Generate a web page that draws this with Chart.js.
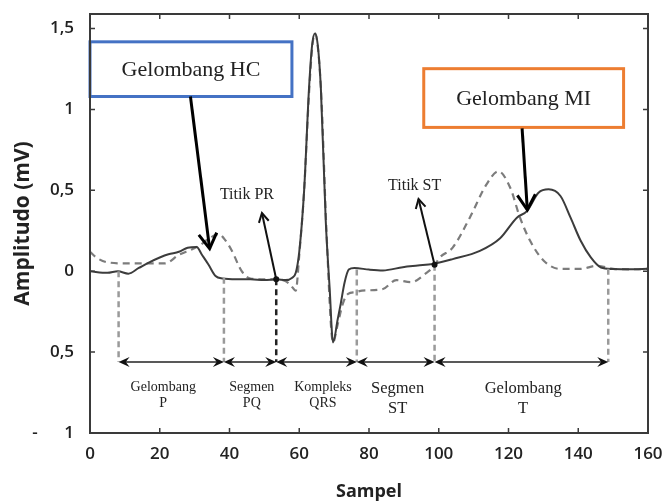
<!DOCTYPE html>
<html>
<head>
<meta charset="utf-8">
<script src="https://cdn.jsdelivr.net/npm/chart.js@4.4.1/dist/chart.umd.min.js"></script>
<style>
  body { margin: 0; background: #fff; }
  canvas { display: block; }
</style>
</head>
<body>
<canvas id="ecg" width="665" height="504"></canvas>
<script>
// ECG waveform, solid trace
const solidX = [0, 5, 8, 11, 14, 17, 20, 22.5, 25.5, 28, 30.6, 32, 34, 36, 38, 42, 46, 50, 53.5, 56, 58, 59, 60,
    61.4, 62.8, 63.7, 64.5, 65.3, 66.2, 67.6, 68.7, 69.7, 71, 71.9, 73, 74.2, 75.8, 80, 84, 89.7, 94, 98.3,
    104, 111.8, 117.6, 122.4, 125.3, 128.6, 131.5, 134.9, 137.8, 140.7, 143.6, 146.5, 150, 155, 160];
const solidY = [0, -0.01, 0, -0.015, 0.02, 0.055, 0.085, 0.105, 0.12, 0.145, 0.15, 0.105, 0.04, -0.03, -0.045, -0.05, -0.05, -0.055, -0.05, -0.055, -0.04, -0.01, 0.12,
    0.5, 1.13, 1.4, 1.47, 1.4, 1.13, 0.31, -0.1, -0.44, -0.3, -0.2, -0.07, 0.01, 0.02, 0.01, 0.005, 0.025, 0.035, 0.045,
    0.075, 0.126, 0.204, 0.331, 0.372, 0.485, 0.506, 0.465, 0.331, 0.188, 0.085, 0.023, 0.014, 0.012, 0.015];

// ECG waveform, dashed trace
const dashX = [0, 1.8, 5, 11, 16, 21.5, 25.4, 29.2, 31.5, 34, 37, 38.5, 40.6, 43.5, 46, 50, 53.5, 56, 57.5, 59, 60,
    61.4, 62.8, 63.8, 64.5, 65.5, 66.4, 67.8, 69.7, 71, 72.5, 74, 76, 78, 84, 87.8, 92, 96.5, 98.4,
    100.3, 104, 108.9, 113.7, 117.1, 120.5, 123.3, 126.2, 130.1, 134.9, 140.6, 145.4, 150, 155, 160];
const dashY = [0.12, 0.085, 0.055, 0.048, 0.048, 0.048, 0.1, 0.135, 0.16, 0.2, 0.23, 0.2, 0.13, 0.0, -0.045, -0.05, -0.05, -0.06, -0.085, -0.12, 0.1,
    0.5, 1.1, 1.4, 1.47, 1.35, 1.05, 0.25, -0.44, -0.33, -0.2, -0.14, -0.13, -0.12, -0.11, -0.055, -0.068, -0.01, 0.025,
    0.085, 0.146, 0.331, 0.537, 0.618, 0.516, 0.331, 0.188, 0.065, 0.014, 0.014, 0.034, 0.015, 0.012, 0.015];

const xTicks = [0, 20, 40, 60, 80, 100, 120, 140, 160];
const yTicks = [-1, -0.5, 0, 0.5, 1, 1.5];
const yTickLabels = ["-      1", "0,5", "0", "0,5", "1", "1,5"];

// segment boundaries and names
const segEdges = [8.2, 38.4, 53.4, 76.5, 98.8, 148.6];
const segEdgeTop = [0, -0.04, -0.05, 0.01, 0.04, 0.015];
const segNames = [["Gelombang", "P"], ["Segmen", "PQ"], ["Kompleks", "QRS"], ["Segmen", "ST"], ["Gelombang", "T"]];
const segNameX = [21, 46.4, 66.8, 88.2, 124.2];

const arrowLevel = -0.561;
const serif = "'Liberation Serif', 'Times New Roman', serif";

function head(ctx, tx, ty, ang, len, w, filled) {
    ctx.save();
    ctx.translate(tx, ty);
    ctx.rotate(ang);
    ctx.beginPath();
    if (filled) {
        ctx.moveTo(0, 0);
        ctx.lineTo(-len, -w);
        ctx.lineTo(-len * 0.65, 0);
        ctx.lineTo(-len, w);
        ctx.closePath();
        ctx.fill();
    } else {
        ctx.moveTo(-len, -w);
        ctx.lineTo(0, 0);
        ctx.lineTo(-len, w);
        ctx.stroke();
    }
    ctx.restore();
}

function arrow(ctx, x1, y1, x2, y2, width, len, w) {
    ctx.lineWidth = width;
    ctx.beginPath();
    ctx.moveTo(x1, y1);
    ctx.lineTo(x2, y2);
    ctx.stroke();
    head(ctx, x2, y2, Math.atan2(y2 - y1, x2 - x1), len, w, false);
}

const frame = {
    id: "frame",
    afterDraw(chart) {
        const { ctx, chartArea: a, scales: { x, y } } = chart;
        ctx.save();
        ctx.strokeStyle = "#3a3a3a";
        ctx.lineWidth = 2;
        ctx.strokeRect(a.left, a.top, a.right - a.left, a.bottom - a.top);
        ctx.lineWidth = 1.5;
        ctx.beginPath();
        xTicks.slice(1, -1).forEach(v => {
            const p = x.getPixelForValue(v);
            ctx.moveTo(p, a.bottom); ctx.lineTo(p, a.bottom - 5);
            ctx.moveTo(p, a.top); ctx.lineTo(p, a.top + 5);
        });
        yTicks.slice(1).forEach(v => {
            const p = y.getPixelForValue(v);
            ctx.moveTo(a.left, p); ctx.lineTo(a.left + 5, p);
            ctx.moveTo(a.right, p); ctx.lineTo(a.right - 5, p);
        });
        ctx.stroke();
        ctx.restore();
    }
};

const notes = {
    id: "notes",
    afterDatasetsDraw(chart) {
        const { ctx, scales: { x, y } } = chart;
        const X = v => x.getPixelForValue(v);
        const Y = v => y.getPixelForValue(v);
        ctx.save();

        // dashed boundary lines
        ctx.setLineDash([6, 4]);
        ctx.lineWidth = 2.5;
        segEdges.forEach((e, i) => {
            ctx.strokeStyle = i === 2 ? "#222" : "#9a9a9a";
            ctx.beginPath();
            ctx.moveTo(X(e), Y(segEdgeTop[i]));
            ctx.lineTo(X(e), Y(arrowLevel));
            ctx.stroke();
        });
        ctx.setLineDash([]);

        // double arrows
        ctx.strokeStyle = "#222";
        ctx.fillStyle = "#111";
        ctx.lineWidth = 1.5;
        const ay = Y(arrowLevel);
        for (let i = 0; i < segEdges.length - 1; i++) {
            const a = X(segEdges[i]), b = X(segEdges[i + 1]);
            ctx.beginPath();
            ctx.moveTo(a + 4, ay);
            ctx.lineTo(b - 4, ay);
            ctx.stroke();
            head(ctx, a, ay, Math.PI, 11, 5, true);
            head(ctx, b, ay, 0, 11, 5, true);
        }

        // segment names
        ctx.fillStyle = "#222";
        ctx.textAlign = "center";
        ctx.textBaseline = "middle";
        segNames.forEach((n, i) => {
            const big = i >= 3;
            ctx.font = (big ? "16.5px " : "14px ") + serif;
            const y1 = big ? -0.729 : -0.717;
            const y2 = big ? -0.852 : -0.815;
            ctx.fillText(n[0], X(segNameX[i]), Y(y1));
            ctx.fillText(n[1], X(segNameX[i]), Y(y2));
        });

        // Titik PR / Titik ST
        ctx.font = "16px " + serif;
        ctx.fillText("Titik PR", X(45), Y(0.47));
        ctx.fillText("Titik ST", X(93.1), Y(0.526));
        ctx.strokeStyle = "#111";
        arrow(ctx, X(53.4), Y(-0.05), X(49.3), Y(0.36), 2, 9, 5);
        arrow(ctx, X(98.8), Y(0.04), X(94.2), Y(0.446), 2, 9, 5);
        ctx.fillStyle = "#111";
        [[53.4, -0.05], [98.8, 0.04]].forEach(p => {
            ctx.beginPath();
            ctx.arc(X(p[0]), Y(p[1]), 3, 0, Math.PI * 2);
            ctx.fill();
        });

        // HC / MI boxes
        const boxes = [
            { x0: 0, x1: 57.9, y0: 1.418, y1: 1.08, color: "#4472c4", text: "Gelombang HC", from: [28.8, 1.08], to: [34.3, 0.14] },
            { x0: 95.7, x1: 153, y0: 1.252, y1: 0.889, color: "#ed7d31", text: "Gelombang MI", from: [123.9, 0.883], to: [125.4, 0.38] }
        ];
        boxes.forEach(bx => {
            const l = X(bx.x0), r = X(bx.x1), t = Y(bx.y0), bt = Y(bx.y1);
            ctx.fillStyle = "#fff";
            ctx.fillRect(l, t, r - l, bt - t);
            ctx.strokeStyle = bx.color;
            ctx.lineWidth = 3;
            ctx.strokeRect(l, t, r - l, bt - t);
            ctx.fillStyle = "#222";
            ctx.font = "22px " + serif;
            ctx.fillText(bx.text, (l + r) / 2, (t + bt) / 2 + 1);
            ctx.strokeStyle = "#000";
            arrow(ctx, X(bx.from[0]), Y(bx.from[1]), X(bx.to[0]), Y(bx.to[1]), 3, 15, 9);
        });

        ctx.restore();
    }
};

const ctx = document.getElementById("ecg").getContext("2d");

new Chart(ctx, {
    type: "line",
    data: {
        datasets: [{
            data: solidX.map((v, i) => ({ x: v, y: solidY[i] })),
            borderColor: "#3c3c3c",
            borderWidth: 2,
            pointRadius: 0,
            cubicInterpolationMode: "monotone",
            order: 0
        }, {
            data: dashX.map((v, i) => ({ x: v, y: dashY[i] })),
            borderColor: "#7c7c7c",
            borderWidth: 2.2,
            borderDash: [7, 5],
            pointRadius: 0,
            cubicInterpolationMode: "monotone",
            order: 1
        }]
    },
    options: {
        responsive: false,
        animation: false,
        layout: { padding: { top: 14, right: 17, left: 0, bottom: 0 } },
        plugins: {
            legend: { display: false },
            tooltip: { enabled: false }
        },
        scales: {
            x: {
                type: "linear",
                min: 0,
                max: 160,
                afterFit: s => { s.height = 71; s.paddingLeft = 0; s.paddingRight = 0; },
                afterBuildTicks: s => { s.ticks = xTicks.map(v => ({ value: v })); },
                grid: { display: false, drawTicks: false },
                border: { display: false },
                ticks: {
                    padding: 11,
                    maxRotation: 0,
                    autoSkip: false,
                    color: "#222",
                    font: { family: "'Open Sans'", size: 17, weight: "600" }
                },
                title: {
                    display: true,
                    text: "Sampel",
                    color: "#222",
                    font: { family: "'Open Sans'", size: 18, weight: "bold" },
                    padding: { top: 0, bottom: 1 }
                }
            },
            y: {
                min: -1,
                max: 1.59,
                afterFit: s => { s.width = 90; s.paddingTop = 0; s.paddingBottom = 0; },
                afterBuildTicks: s => { s.ticks = yTicks.map(v => ({ value: v })); },
                grid: { display: false, drawTicks: false },
                border: { display: false },
                ticks: {
                    padding: 16,
                    color: "#222",
                    font: { family: "'Open Sans'", size: 17, weight: "600" },
                    callback: v => yTickLabels[yTicks.indexOf(v)]
                },
                title: {
                    display: true,
                    text: "Amplitudo (mV)",
                    color: "#222",
                    font: { family: "'Open Sans'", size: 21, weight: "bold" },
                    padding: { top: 10, bottom: 0 }
                }
            }
        }
    },
    plugins: [frame, notes]
});
</script>
</body>
</html>
